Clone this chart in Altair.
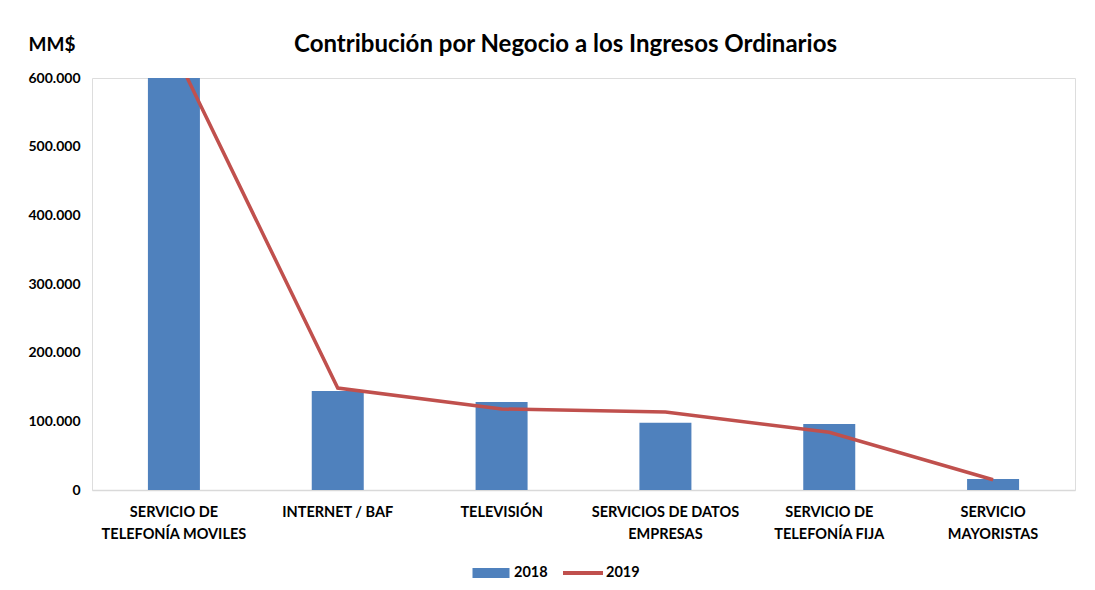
import altair as alt
import pandas as pd

categories = [
    "SERVICIO DE|TELEFONÍA MOVILES",
    "INTERNET / BAF",
    "TELEVISIÓN",
    "SERVICIOS DE DATOS|EMPRESAS",
    "SERVICIO DE|TELEFONÍA FIJA",
    "SERVICIO|MAYORISTAS",
]
values_2018 = [650000, 144000, 128000, 98000, 96000, 16000]
values_2019 = [640000, 148500, 118000, 113500, 84000, 15000]

df18 = pd.DataFrame({"cat": categories, "valor": values_2018, "serie": "2018", "orden": range(6)})
df19 = pd.DataFrame({"cat": categories, "valor": values_2019, "serie": "2019", "orden": range(6)})

FONT = "Lato"
x_enc = alt.X(
    "cat:N",
    sort=categories,
    scale=alt.Scale(paddingInner=0, paddingOuter=0),
    axis=alt.Axis(
        title=None,
        labelAngle=0,
        labelExpr="split(datum.label, '|')",
        labelFont=FONT,
        labelFontWeight="bold",
        labelFontSize=14.5,
        labelColor="#000000",
        labelLineHeight=22,
        labelPadding=15,
        ticks=False,
        domainColor="#D9D9D9",
        domainWidth=1.5,
    ),
)
y_enc = alt.Y(
    "valor:Q",
    scale=alt.Scale(domain=[0, 600000], nice=False),
    axis=alt.Axis(
        title="MM$",
        titleAngle=0,
        titleX=-64,
        titleY=-34,
        titleAlign="left",
        titleBaseline="middle",
        titleFont=FONT,
        titleFontSize=19,
        titleFontWeight="bold",
        titleColor="#000000",
        values=[0, 100000, 200000, 300000, 400000, 500000, 600000],
        labelExpr="replace(format(datum.value, ','), ',', '.')",
        labelFont=FONT,
        labelFontWeight="bold",
        labelFontSize=14,
        labelColor="#000000",
        labelPadding=12,
        ticks=False,
        domain=False,
        grid=False,
    ),
)

bars = alt.Chart(df18).mark_bar(size=52, clip=True).encode(
    x=x_enc,
    y=y_enc,
    color=alt.Color(
        "serie:N",
        scale=alt.Scale(domain=["2018"], range=["#4F81BD"]),
        legend=alt.Legend(
            title=None, orient="none", legendX=389, legendY=485,
            symbolType="M-1.85,-0.5H1.85V0.5H-1.85Z", symbolSize=400,
            symbolStrokeWidth=0, labelOffset=13,
            labelFont=FONT, labelFontSize=14.5, labelFontWeight="bold", labelColor="#000000",
        ),
    ),
)

line = alt.Chart(df19).mark_line(strokeWidth=3.5, clip=True).encode(
    x=x_enc,
    y=y_enc,
    order="orden:Q",
    stroke=alt.Stroke(
        "serie:N",
        scale=alt.Scale(domain=["2019"], range=["#C0504D"]),
        legend=alt.Legend(
            title=None, orient="none", legendX=469, legendY=473,
            symbolType="stroke", symbolStrokeWidth=4, symbolSize=1600,
            labelOffset=1,
            labelFont=FONT, labelFontSize=14.5, labelFontWeight="bold", labelColor="#000000",
        ),
    ),
)

chart = (
    alt.layer(bars, line)
    .resolve_scale(color="independent", stroke="independent")
    .properties(
        width=983,
        height=412,
        autosize=alt.AutoSizeParams(type="none"),
        padding={"left": 84, "top": 70, "right": 12, "bottom": 92},
        title=alt.TitleParams(
            "Contribución por Negocio a los Ingresos Ordinarios",
            font=FONT, fontSize=24, fontWeight="bold", color="#000000",
            anchor="middle", dx=-18, offset=0, dy=22,
        ),
    )
    .configure_view(stroke=None)
    .configure(background="#FFFFFF")
)

chart.save("out.html", embed_options={"renderer": "svg", "actions": False})
